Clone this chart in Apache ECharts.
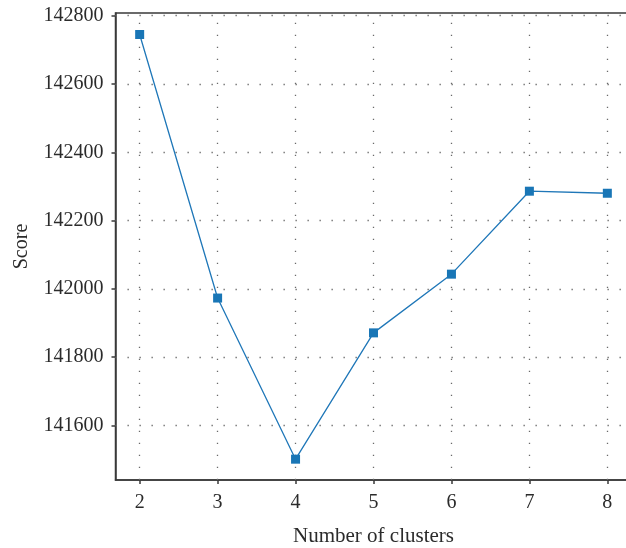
<!DOCTYPE html>
<html>
<head>
<meta charset="utf-8">
<script src="https://cdn.jsdelivr.net/npm/echarts@6/dist/echarts.min.js"></script>
<style>
  html, body { margin: 0; padding: 0; background: #fff; }
  #chart { width: 626px; height: 548px; }
</style>
</head>
<body>
<div id="chart"></div>
<script>
// Clustering score for each candidate number of clusters
const clusterCounts = [2, 3, 4, 5, 6, 7, 8];
const scores = [142745, 141973, 141501, 141871, 142043, 142286, 142280];
const yTicks = [141600, 141800, 142000, 142200, 142400, 142600, 142800];
const xTicks = [2, 3, 4, 5, 6, 7, 8];

const FONT = '"Liberation Serif", "DejaVu Serif", serif';
const TEXT = '#2b2b2b';
const AXIS = '#3a3a3a';
const GRIDDOT = '#6a6a6a';

const chart = echarts.init(document.getElementById('chart'), null, { renderer: 'canvas' });

chart.setOption({
  animation: false,
  backgroundColor: '#fff',
  grid: {
    left: 115.5, top: 13, width: 516, height: 467,
    outerBoundsMode: 'none',
    containLabel: false,
    show: true, borderColor: AXIS, borderWidth: 1.5, backgroundColor: 'transparent'
  },
  xAxis: {
    type: 'value',
    min: 1.69, max: 8.31,
    name: 'Number of clusters',
    nameLocation: 'middle',
    nameGap: 46,
    nameTextStyle: { fontFamily: FONT, fontSize: 21, color: TEXT },
    axisLine: { show: true, lineStyle: { color: AXIS, width: 1.5 } },
    axisTick: { show: true, length: 4, lineStyle: { color: AXIS, width: 1.5 }, customValues: xTicks },
    axisLabel: { fontFamily: FONT, fontSize: 20, color: TEXT, margin: 13, customValues: xTicks,
                 formatter: v => String(v) },
    splitLine: { show: false }
  },
  yAxis: {
    type: 'value',
    min: 141440, max: 142808,
    name: 'Score',
    nameLocation: 'middle',
    nameGap: 84,
    nameTextStyle: { fontFamily: FONT, fontSize: 20, color: TEXT },
    axisLine: { show: true, lineStyle: { color: AXIS, width: 1.5 } },
    axisTick: { show: true, length: 4, lineStyle: { color: AXIS, width: 1.5 }, customValues: yTicks },
    axisLabel: { fontFamily: FONT, fontSize: 20, color: TEXT, margin: 12, customValues: yTicks,
                 formatter: v => String(v) },
    splitLine: { show: false }
  },
  series: [
    {
      type: 'line',
      data: clusterCounts.map((c, i) => [c, scores[i]]),
      symbol: 'rect',
      symbolSize: 9,
      lineStyle: { color: '#1f77b8', width: 1.3 },
      itemStyle: { color: '#1976b6' },
      z: 5,
      markLine: {
        silent: true,
        symbol: ['none', 'none'],
        label: { show: false },
        lineStyle: { color: GRIDDOT, width: 1.3, type: [1.3, 10.7] },
        data: yTicks.map(v => ({ yAxis: v })).concat(xTicks.map(v => ({ xAxis: v }))),
        z: 1
      }
    }
  ]
});
</script>
</body>
</html>
